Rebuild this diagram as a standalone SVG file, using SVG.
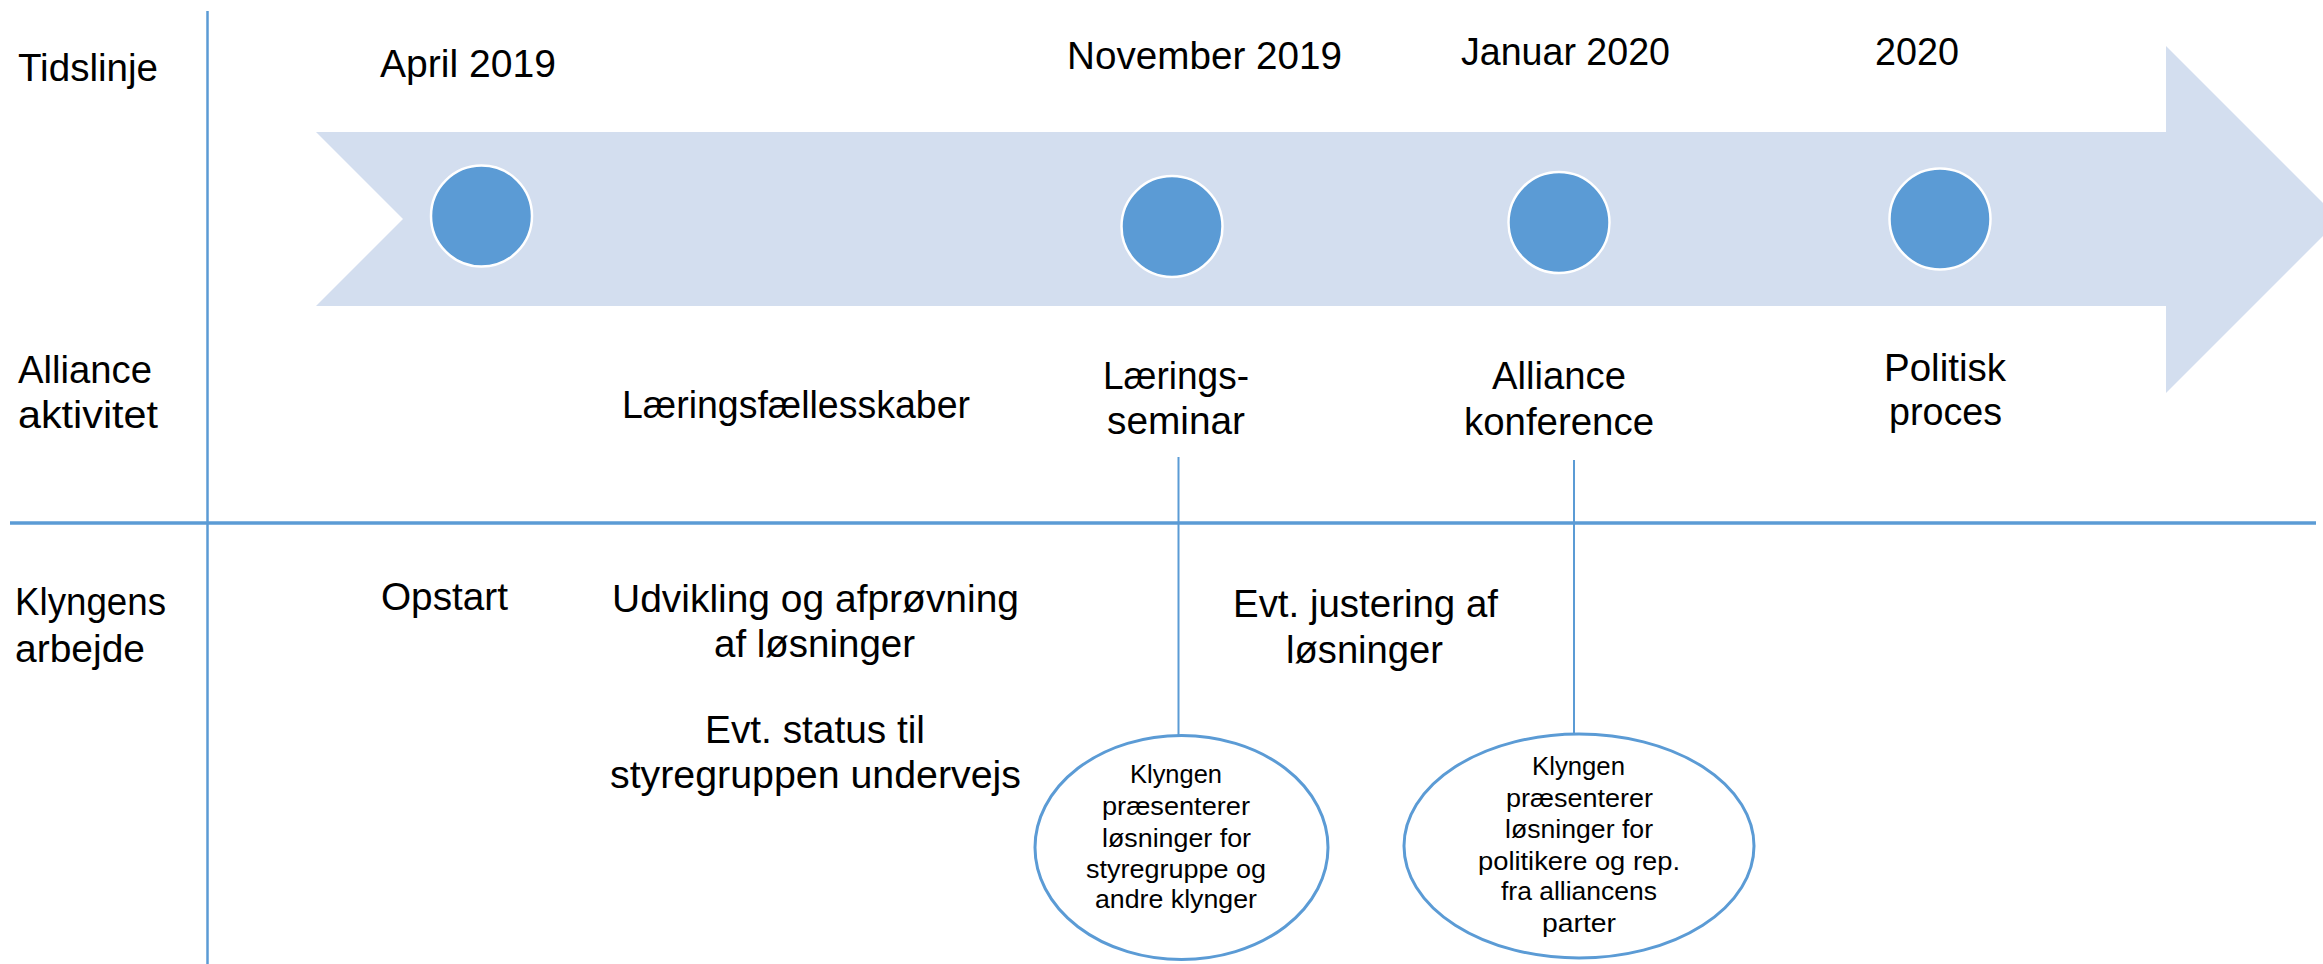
<svg xmlns="http://www.w3.org/2000/svg" width="2323" height="964" viewBox="0 0 2323 964">
<style>
.t{font-family:"Liberation Sans",Arial,sans-serif;font-size:38px;fill:#000}
.s{font-family:"Liberation Sans",Arial,sans-serif;font-size:26px;fill:#000}
.dot{fill:#5B9BD5;stroke:#FFFFFF;stroke-width:2.5}
.ell{fill:#FFFFFF;stroke:#5B9BD5;stroke-width:3}
.ln{stroke:#5B9BD5;fill:none}
</style>
<rect width="2323" height="964" fill="#FFFFFF"/>
<g id="grid">
<line class="ln" x1="207.5" y1="11" x2="207.5" y2="964" stroke-width="2.5"/>
<line class="ln" x1="10" y1="523" x2="2316" y2="523" stroke-width="3.5"/>
</g>
<g id="timeline-arrow">
<polygon points="316,132 2166,132 2166,46 2339.5,219.5 2166,393 2166,306 316,306 403,219" fill="#D3DEEF"/>
</g>
<g id="dot-april"><circle class="dot" cx="481.5" cy="216" r="50.5"/></g>
<g id="dot-november"><circle class="dot" cx="1172" cy="226.5" r="50.5"/></g>
<g id="dot-januar"><circle class="dot" cx="1559" cy="222.5" r="50.5"/></g>
<g id="dot-2020"><circle class="dot" cx="1940" cy="219" r="50.5"/></g>
<g id="row-labels">
<text class="t" x="18" y="81" textLength="140" lengthAdjust="spacingAndGlyphs">Tidslinje</text>
<text class="t" x="18" y="383" textLength="134" lengthAdjust="spacingAndGlyphs">Alliance</text>
<text class="t" x="18" y="428" textLength="140" lengthAdjust="spacingAndGlyphs">aktivitet</text>
<text class="t" x="15" y="615" textLength="151" lengthAdjust="spacingAndGlyphs">Klyngens</text>
<text class="t" x="15" y="662" textLength="130" lengthAdjust="spacingAndGlyphs">arbejde</text>
</g>
<g id="dates">
<text class="t" x="380" y="77" textLength="176" lengthAdjust="spacingAndGlyphs">April 2019</text>
<text class="t" x="1067" y="69" textLength="275" lengthAdjust="spacingAndGlyphs">November 2019</text>
<text class="t" x="1461" y="65" textLength="209" lengthAdjust="spacingAndGlyphs">Januar 2020</text>
<text class="t" x="1875" y="65" textLength="84" lengthAdjust="spacingAndGlyphs">2020</text>
</g>
<g id="alliance-activities">
<text class="t" x="622" y="418" textLength="348" lengthAdjust="spacingAndGlyphs">Læringsfællesskaber</text>
<text class="t" x="1103" y="389" textLength="146" lengthAdjust="spacingAndGlyphs">Lærings-</text>
<text class="t" x="1107" y="434" textLength="138" lengthAdjust="spacingAndGlyphs">seminar</text>
<text class="t" x="1492" y="389" textLength="134" lengthAdjust="spacingAndGlyphs">Alliance</text>
<text class="t" x="1464" y="435" textLength="190" lengthAdjust="spacingAndGlyphs">konference</text>
<text class="t" x="1884" y="381" textLength="122" lengthAdjust="spacingAndGlyphs">Politisk</text>
<text class="t" x="1889" y="425" textLength="113" lengthAdjust="spacingAndGlyphs">proces</text>
</g>
<g id="cluster-work">
<text class="t" x="381" y="610" textLength="127" lengthAdjust="spacingAndGlyphs">Opstart</text>
<text class="t" x="612" y="612" textLength="407" lengthAdjust="spacingAndGlyphs">Udvikling og afprøvning</text>
<text class="t" x="714" y="657" textLength="201" lengthAdjust="spacingAndGlyphs">af løsninger</text>
<text class="t" x="705" y="743" textLength="220" lengthAdjust="spacingAndGlyphs">Evt. status til</text>
<text class="t" x="610" y="788" textLength="411" lengthAdjust="spacingAndGlyphs">styregruppen undervejs</text>
<text class="t" x="1233" y="617" textLength="265" lengthAdjust="spacingAndGlyphs">Evt. justering af</text>
<text class="t" x="1286" y="663" textLength="157" lengthAdjust="spacingAndGlyphs">løsninger</text>
</g>
<g id="connectors">
<line class="ln" x1="1178.5" y1="457" x2="1178.5" y2="735" stroke-width="2"/>
<line class="ln" x1="1574" y1="460" x2="1574" y2="734" stroke-width="2"/>
</g>
<g id="ellipse-seminar">
<ellipse class="ell" cx="1181.5" cy="847.5" rx="146.5" ry="112"/>
<text class="s" x="1130" y="783" textLength="92" lengthAdjust="spacingAndGlyphs">Klyngen</text>
<text class="s" x="1102" y="815" textLength="148" lengthAdjust="spacingAndGlyphs">præsenterer</text>
<text class="s" x="1102" y="847" textLength="149" lengthAdjust="spacingAndGlyphs">løsninger for</text>
<text class="s" x="1086" y="878" textLength="180" lengthAdjust="spacingAndGlyphs">styregruppe og</text>
<text class="s" x="1095" y="908" textLength="162" lengthAdjust="spacingAndGlyphs">andre klynger</text>
</g>
<g id="ellipse-konference">
<ellipse class="ell" cx="1579" cy="846" rx="175" ry="112"/>
<text class="s" x="1532" y="775" textLength="93" lengthAdjust="spacingAndGlyphs">Klyngen</text>
<text class="s" x="1506" y="807" textLength="147" lengthAdjust="spacingAndGlyphs">præsenterer</text>
<text class="s" x="1505" y="838" textLength="148" lengthAdjust="spacingAndGlyphs">løsninger for</text>
<text class="s" x="1478" y="870" textLength="202" lengthAdjust="spacingAndGlyphs">politikere og rep.</text>
<text class="s" x="1501" y="900" textLength="156" lengthAdjust="spacingAndGlyphs">fra alliancens</text>
<text class="s" x="1542" y="932" textLength="74" lengthAdjust="spacingAndGlyphs">parter</text>
</g>
</svg>
